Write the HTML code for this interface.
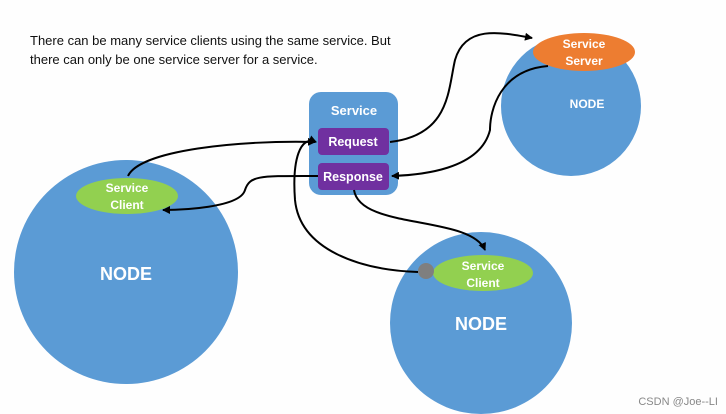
<!DOCTYPE html>
<html><head><meta charset="utf-8"><style>
html,body{margin:0;padding:0;background:#fff;}
svg{display:block;}
text{font-family:"Liberation Sans",sans-serif;}
</style></head><body>
<svg width="726" height="414" viewBox="0 0 726 414" xmlns="http://www.w3.org/2000/svg">
<defs><marker id="a" markerWidth="8" markerHeight="8" refX="7" refY="4" orient="auto" markerUnits="userSpaceOnUse"><path d="M0,0 L8,4 L0,8 z" fill="#000"/></marker></defs>
<rect width="726" height="414" fill="#fefefe"/>
<text x="30" y="45" font-size="13" fill="#111">There can be many service clients using the same service. But</text>
<text x="30" y="64" font-size="13" fill="#111">there can only be one service server for a service.</text>
<circle cx="571" cy="106" r="70" fill="#5b9bd5"/>
<circle cx="126" cy="272" r="112" fill="#5b9bd5"/>
<circle cx="481" cy="323" r="91" fill="#5b9bd5"/>
<rect x="309" y="92" width="89" height="103" rx="12" fill="#5b9bd5"/>
<text x="354" y="115" font-size="13" font-weight="bold" fill="#fff" text-anchor="middle">Service</text>
<rect x="318" y="128" width="71" height="27" rx="4" fill="#7030a0"/>
<text x="353" y="146" font-size="12.5" font-weight="bold" fill="#fff" text-anchor="middle">Request</text>
<rect x="318" y="163" width="71" height="27" rx="4" fill="#7030a0"/>
<text x="353" y="181" font-size="12.5" font-weight="bold" fill="#fff" text-anchor="middle">Response</text>
<ellipse cx="584" cy="52" rx="51" ry="19" fill="#ed7d31"/>
<text x="584" y="48" font-size="12" font-weight="bold" fill="#fff" text-anchor="middle">Service</text>
<text x="584" y="65" font-size="12" font-weight="bold" fill="#fff" text-anchor="middle">Server</text>
<text x="587" y="108" font-size="12" font-weight="bold" fill="#fff" text-anchor="middle">NODE</text>
<ellipse cx="127" cy="196" rx="51" ry="18" fill="#92d050"/>
<text x="127" y="192" font-size="12" font-weight="bold" fill="#fff" text-anchor="middle">Service</text>
<text x="127" y="209" font-size="12" font-weight="bold" fill="#fff" text-anchor="middle">Client</text>
<text x="126" y="280" font-size="18" font-weight="bold" fill="#fff" text-anchor="middle">NODE</text>
<ellipse cx="483" cy="273" rx="50" ry="18" fill="#92d050"/>
<text x="483" y="270" font-size="12" font-weight="bold" fill="#fff" text-anchor="middle">Service</text>
<text x="483" y="287" font-size="12" font-weight="bold" fill="#fff" text-anchor="middle">Client</text>
<text x="481" y="330" font-size="18" font-weight="bold" fill="#fff" text-anchor="middle">NODE</text>
<g fill="none" stroke="#000" stroke-width="2">
<path d="M128,176 C140,150 240,140 315,142" marker-end="url(#a)"/>
<path d="M318,176 C260,176 250,175 245,190 C240,208 180,210 163,210" marker-end="url(#a)"/>
<path d="M390,142 C450,135 448,90 455,60 C465,25 500,32 532,38" marker-end="url(#a)"/>
<path d="M548,66 C500,70 490,110 490,130 C480,170 420,175 392,176" marker-end="url(#a)"/>
<path d="M354,190 C360,230 470,215 485,250" marker-end="url(#a)"/>
<path d="M418,272 C360,270 300,250 295,200 C292,160 300,135 316,142" marker-end="url(#a)"/>
</g>
<circle cx="426" cy="271" r="8" fill="#7f7f7f"/>
<text x="718" y="405" font-size="11" fill="#888" text-anchor="end">CSDN @Joe--LI</text>
</svg>
</body></html>
